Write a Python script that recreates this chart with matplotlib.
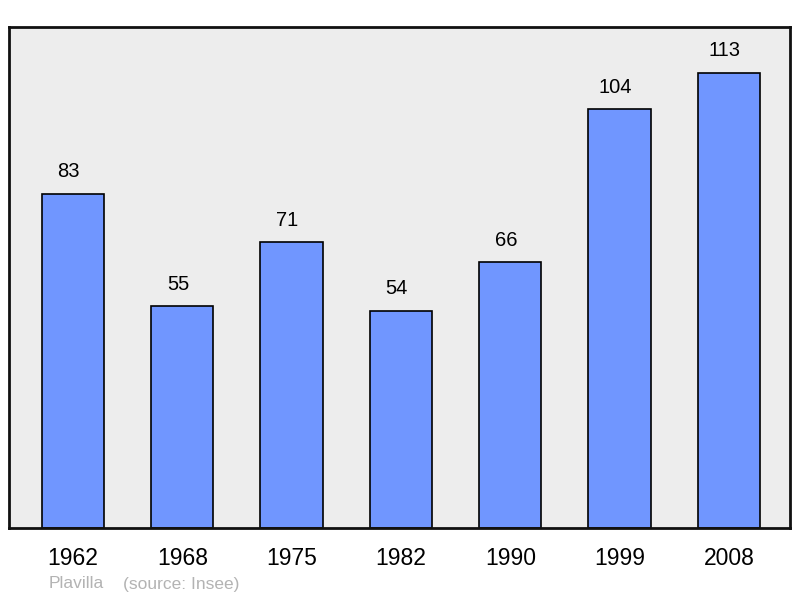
import matplotlib.pyplot as plt

years = ['1962', '1968', '1975', '1982', '1990', '1999', '2008']
population = [83, 55, 71, 54, 66, 104, 113]

plt.rcParams['font.family'] = ['Liberation Sans', 'DejaVu Sans']

fig = plt.figure(figsize=(8, 5.98), dpi=100)
ax = fig.add_axes([0.01125, 0.1171, 0.97625, 0.8377])
ax.set_facecolor('#ededed')

x = range(len(years))
ax.bar(x, population, width=0.57, color='#7096ff', edgecolor='black', linewidth=1.2, zorder=2)

# value labels sit a bit left of bar centre in the original
for i, v in enumerate(population):
    ax.annotate(str(v), (i, v), xytext=(-3, 9), textcoords='offset points',
                ha='center', va='bottom', fontsize=14.5)

ax.set_xlim(-0.585, 6.558)
ax.set_ylim(0, 124.4)
ax.set_yticks([])
ax.set_xticks(list(x))
ax.set_xticklabels(years, fontsize=16.5)
ax.tick_params(axis='x', length=0, pad=14)
for s in ax.spines.values():
    s.set_linewidth(2)
    s.set_color('#111111')

fig.text(49 / 800, 1 - 584 / 598, 'Plavilla', color='#b3b3b3', fontsize=12.5,
         ha='left', va='center')
fig.text(123 / 800, 1 - 584 / 598, '(source: Insee)', color='#b3b3b3', fontsize=12.5,
         ha='left', va='center')

fig.savefig('out.png', dpi=100)
